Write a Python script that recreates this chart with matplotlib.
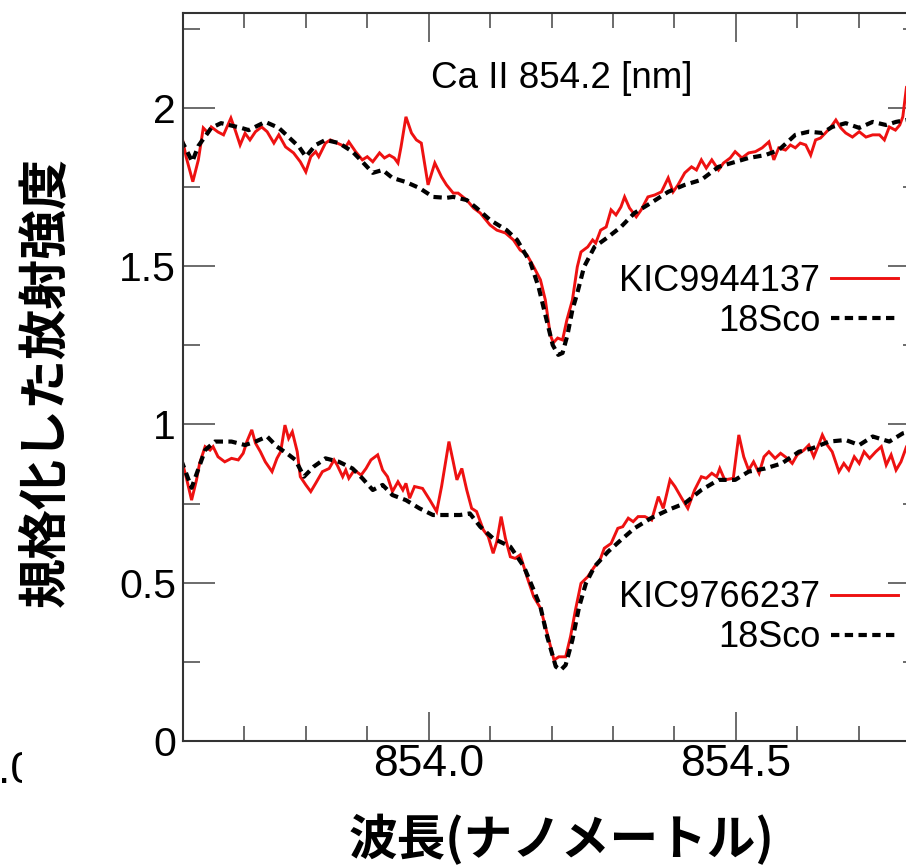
import matplotlib
matplotlib.use("Agg")
import matplotlib.pyplot as plt
from matplotlib.ticker import MultipleLocator, FixedLocator, FuncFormatter
from matplotlib.transforms import Bbox, TransformedBbox

# ---------------- data ----------------
# upper pair (offset +1): KIC9944137 and 18Sco
wl_kic_a = [853.597, 853.605, 853.616, 853.625, 853.633, 853.641, 853.646, 853.657, 853.666, 853.678,
            853.685, 853.693, 853.701, 853.709, 853.718, 853.728, 853.737, 853.748, 853.756, 853.767,
            853.780, 853.791, 853.800, 853.808, 853.816, 853.821, 853.832, 853.840, 853.851, 853.865,
            853.870, 853.881, 853.892, 853.900, 853.909, 853.920, 853.928, 853.936, 853.944, 853.950,
            853.955, 853.963, 853.972, 853.980, 853.988, 853.999, 854.010, 854.021, 854.029, 854.040,
            854.048, 854.062, 854.073, 854.084, 854.100, 854.111, 854.125, 854.138, 854.149, 854.160,
            854.171, 854.182, 854.190, 854.198, 854.203, 854.210, 854.218, 854.225, 854.234, 854.242,
            854.248, 854.259, 854.267, 854.272, 854.280, 854.289, 854.297, 854.305, 854.313, 854.319,
            854.327, 854.338, 854.346, 854.357, 854.368, 854.379, 854.390, 854.398, 854.406, 854.417,
            854.428, 854.436, 854.444, 854.452, 854.461, 854.472, 854.480, 854.491, 854.499, 854.510,
            854.521, 854.532, 854.543, 854.554, 854.562, 854.570, 854.581, 854.589, 854.597, 854.605,
            854.614, 854.622, 854.630, 854.638, 854.646, 854.655, 854.663, 854.671, 854.679, 854.690,
            854.701, 854.712, 854.723, 854.734, 854.742, 854.750, 854.760, 854.767, 854.772, 854.778,
            854.782, 854.790, 854.800]
in_kic_a = [1.921, 1.846, 1.767, 1.836, 1.937, 1.921, 1.940, 1.924, 1.915, 1.968,
            1.930, 1.883, 1.920, 1.899, 1.925, 1.940, 1.925, 1.889, 1.915, 1.877,
            1.858, 1.830, 1.798, 1.846, 1.862, 1.846, 1.889, 1.899, 1.889, 1.877,
            1.893, 1.862, 1.836, 1.846, 1.830, 1.858, 1.842, 1.851, 1.842, 1.826,
            1.877, 1.972, 1.921, 1.899, 1.889, 1.757, 1.826, 1.782, 1.757, 1.731,
            1.731, 1.709, 1.684, 1.668, 1.630, 1.614, 1.605, 1.583, 1.551, 1.536,
            1.498, 1.457, 1.393, 1.283, 1.258, 1.273, 1.267, 1.330, 1.393, 1.498,
            1.545, 1.561, 1.583, 1.573, 1.614, 1.624, 1.678, 1.662, 1.687, 1.719,
            1.684, 1.656, 1.678, 1.719, 1.725, 1.735, 1.779, 1.735, 1.757, 1.795,
            1.814, 1.804, 1.836, 1.810, 1.836, 1.804, 1.826, 1.842, 1.862, 1.842,
            1.858, 1.862, 1.874, 1.893, 1.836, 1.874, 1.867, 1.883, 1.874, 1.889,
            1.883, 1.851, 1.899, 1.905, 1.921, 1.940, 1.962, 1.937, 1.921, 1.908,
            1.925, 1.908, 1.915, 1.915, 1.899, 1.940, 1.930, 1.946, 1.972, 2.066,
            2.072, 2.080, 2.080]

wl_sco_a = [853.597, 853.605, 853.615, 853.625, 853.646, 853.662, 853.695, 853.707, 853.734, 853.756,
            853.772, 853.789, 853.800, 853.816, 853.832, 853.854, 853.876, 853.892, 853.909, 853.925,
            853.941, 853.963, 853.985, 854.007, 854.029, 854.040, 854.062, 854.078, 854.100, 854.127,
            854.144, 854.166, 854.179, 854.190, 854.202, 854.211, 854.218, 854.226, 854.234, 854.242,
            854.253, 854.270, 854.292, 854.313, 854.335, 854.362, 854.390, 854.417, 854.444, 854.472,
            854.493, 854.521, 854.548, 854.570, 854.597, 854.619, 854.641, 854.657, 854.679, 854.701,
            854.723, 854.745, 854.761, 854.778, 854.800]
in_sco_a = [1.899, 1.870, 1.830, 1.880, 1.937, 1.952, 1.937, 1.930, 1.956, 1.937,
            1.908, 1.877, 1.846, 1.883, 1.899, 1.889, 1.862, 1.830, 1.795, 1.804,
            1.779, 1.766, 1.747, 1.719, 1.716, 1.719, 1.709, 1.684, 1.646, 1.614,
            1.583, 1.510, 1.434, 1.346, 1.251, 1.220, 1.226, 1.283, 1.362, 1.415,
            1.498, 1.561, 1.592, 1.624, 1.668, 1.700, 1.735, 1.757, 1.773, 1.814,
            1.826, 1.842, 1.851, 1.867, 1.915, 1.925, 1.921, 1.940, 1.952, 1.937,
            1.956, 1.946, 1.956, 1.962, 1.965]

# lower pair: KIC9766237 and 18Sco
wl_kic_b = [853.597, 853.605, 853.614, 853.622, 853.627, 853.636, 853.644, 853.649, 853.657, 853.668,
            853.679, 853.690, 853.698, 853.704, 853.712, 853.718, 853.726, 853.734, 853.745, 853.753,
            853.759, 853.766, 853.772, 853.778, 853.786, 853.791, 853.800, 853.808, 853.816, 853.827,
            853.838, 853.846, 853.851, 853.860, 853.865, 853.870, 853.879, 853.890, 853.898, 853.906,
            853.917, 853.925, 853.933, 853.941, 853.950, 853.958, 853.963, 853.969, 853.977, 853.990,
            854.002, 854.013, 854.021, 854.033, 854.040, 854.046, 854.054, 854.062, 854.070, 854.078,
            854.089, 854.097, 854.105, 854.111, 854.118, 854.125, 854.133, 854.141, 854.149, 854.160,
            854.171, 854.182, 854.193, 854.204, 854.212, 854.223, 854.231, 854.239, 854.248, 854.259,
            854.270, 854.278, 854.286, 854.297, 854.308, 854.316, 854.325, 854.333, 854.341, 854.352,
            854.363, 854.374, 854.382, 854.393, 854.401, 854.412, 854.422, 854.433, 854.444, 854.452,
            854.461, 854.469, 854.474, 854.482, 854.496, 854.505, 854.513, 854.521, 854.529, 854.538,
            854.546, 854.554, 854.564, 854.573, 854.584, 854.592, 854.600, 854.611, 854.619, 854.627,
            854.636, 854.641, 854.649, 854.657, 854.668, 854.676, 854.684, 854.693, 854.701, 854.709,
            854.718, 854.728, 854.737, 854.745, 854.753, 854.761, 854.769, 854.778, 854.782, 854.800]
in_kic_b = [0.893, 0.835, 0.761, 0.825, 0.877, 0.930, 0.919, 0.930, 0.898, 0.882,
            0.893, 0.888, 0.909, 0.946, 0.983, 0.941, 0.914, 0.882, 0.851, 0.893,
            0.914, 0.998, 0.956, 0.977, 0.914, 0.835, 0.809, 0.788, 0.814, 0.851,
            0.861, 0.888, 0.872, 0.835, 0.856, 0.830, 0.856, 0.840, 0.861, 0.888,
            0.904, 0.856, 0.835, 0.788, 0.819, 0.793, 0.814, 0.767, 0.804, 0.798,
            0.761, 0.725, 0.804, 0.946, 0.882, 0.825, 0.861, 0.793, 0.735, 0.725,
            0.667, 0.646, 0.593, 0.630, 0.709, 0.640, 0.582, 0.577, 0.588, 0.519,
            0.456, 0.420, 0.340, 0.256, 0.266, 0.266, 0.330, 0.414, 0.498, 0.519,
            0.551, 0.567, 0.609, 0.624, 0.672, 0.677, 0.704, 0.693, 0.709, 0.709,
            0.698, 0.772, 0.735, 0.825, 0.804, 0.767, 0.735, 0.793, 0.835, 0.830,
            0.846, 0.835, 0.861, 0.825, 0.830, 0.967, 0.898, 0.856, 0.882, 0.846,
            0.898, 0.914, 0.893, 0.909, 0.893, 0.877, 0.904, 0.919, 0.935, 0.898,
            0.941, 0.967, 0.935, 0.914, 0.851, 0.877, 0.856, 0.898, 0.877, 0.914,
            0.893, 0.914, 0.930, 0.872, 0.904, 0.856, 0.882, 0.930, 0.941, 0.950]

wl_sco_b = [853.597, 853.614, 853.636, 853.652, 853.679, 853.701, 853.718, 853.737, 853.753, 853.769,
            853.783, 853.797, 853.813, 853.832, 853.854, 853.876, 853.892, 853.909, 853.925, 853.941,
            853.963, 853.985, 854.007, 854.029, 854.051, 854.067, 854.084, 854.105, 854.133, 854.155,
            854.171, 854.182, 854.193, 854.207, 854.215, 854.223, 854.234, 854.245, 854.256, 854.270,
            854.292, 854.313, 854.335, 854.362, 854.390, 854.417, 854.444, 854.472, 854.499, 854.521,
            854.548, 854.575, 854.603, 854.625, 854.652, 854.679, 854.701, 854.723, 854.750, 854.772,
            854.782, 854.800]
in_sco_b = [0.888, 0.800, 0.919, 0.946, 0.946, 0.935, 0.946, 0.962, 0.930, 0.909,
            0.888, 0.835, 0.867, 0.893, 0.882, 0.861, 0.830, 0.793, 0.809, 0.777,
            0.761, 0.735, 0.714, 0.714, 0.714, 0.719, 0.677, 0.640, 0.614, 0.551,
            0.477, 0.424, 0.330, 0.235, 0.224, 0.240, 0.319, 0.424, 0.498, 0.551,
            0.598, 0.635, 0.672, 0.704, 0.730, 0.751, 0.793, 0.825, 0.825, 0.851,
            0.861, 0.877, 0.914, 0.925, 0.946, 0.951, 0.935, 0.962, 0.946, 0.972,
            0.977, 0.980]

label_kic_a = "KIC9944137"
label_kic_b = "KIC9766237"
label_sco = "18Sco"
title_text = "Ca II 854.2 [nm]"
xlabel_text = "波長(ナノメートル)"
ylabel_text = "規格化した放射強度"
xtick_vals = [854.0, 854.5]
xtick_labels = ["854.0", "854.5"]

# ---------------- figure ----------------
W, H = 906, 867
plt.rcParams['font.family'] = ['Liberation Sans', 'DejaVu Sans']
fig = plt.figure(figsize=(W / 100, H / 100), dpi=100)
ax = fig.add_axes([183 / W, 126 / H, 737 / W, 728 / H])

red = '#ee1111'
kw_red = dict(color=red, lw=2.1, solid_joinstyle='miter')
kw_sco = dict(color='black', lw=3.0, linestyle=(0, (2.0, 1.3)))

l1, = ax.plot(wl_kic_a, in_kic_a, label=label_kic_a, **kw_red)
l2, = ax.plot(wl_sco_a, in_sco_a, label=label_sco, **kw_sco)
l3, = ax.plot(wl_kic_b, in_kic_b, label=label_kic_b, **kw_red)
l4, = ax.plot(wl_sco_b, in_sco_b, label=label_sco, **kw_sco)

ax.set_xlim(853.6, 854.8)
ax.set_ylim(0, 2.30)

ax.xaxis.set_major_locator(FixedLocator(xtick_vals))
ax.set_xticklabels(xtick_labels)
ax.xaxis.set_minor_locator(MultipleLocator(0.1))
ax.yaxis.set_major_locator(MultipleLocator(0.5))
ax.yaxis.set_minor_locator(MultipleLocator(0.25))
ax.yaxis.set_major_formatter(FuncFormatter(lambda v, p: f"{v:g}"))

tick_col = '#444444'
ax.tick_params(which='both', direction='in', top=True, right=True, colors=tick_col,
               labelcolor='black', width=1.1)
ax.tick_params(axis='y', which='major', length=23, labelsize=29.5, pad=5)
ax.tick_params(axis='y', which='minor', length=12)
ax.tick_params(axis='x', which='major', length=21, labelsize=32, pad=2)
ax.tick_params(axis='x', which='minor', length=11)
for s in ax.spines.values():
    s.set_color('#333333')
    s.set_linewidth(1.5)

ax.text(0.514, 0.897, title_text, transform=ax.transAxes, ha='center', va='baseline',
        fontsize=26.5)

leg_kw = dict(frameon=False, markerfirst=False, fontsize=26, handlelength=1.85,
              handletextpad=0.3, labelspacing=0.14, borderpad=0, borderaxespad=0,
              loc='center right')
leg1 = ax.legend(handles=[l1, l2], bbox_to_anchor=(0.970, 0.604), **leg_kw)
ax.add_artist(leg1)
ax.legend(handles=[l3, l4], bbox_to_anchor=(0.970, 0.169), **leg_kw)

ax.set_xlabel(xlabel_text, family=['Noto Sans CJK JP', 'DejaVu Sans'], fontsize=35,
              fontweight='bold')
ax.xaxis.set_label_coords((561 - 183) / 737, -(855 - 741) / 728)
ax.xaxis.label.set_va('baseline')
ax.set_ylabel(ylabel_text, family=['Noto Sans CJK JP', 'DejaVu Sans'], fontsize=36,
              fontweight='bold')
ax.yaxis.set_label_coords((45 - 183) / 737, (741 - 382) / 728)
ax.yaxis.label.set_va('center')

# fragment of a neighbouring panel's tick label, cut at the left edge
frag = fig.text(35.5 / W, 1 - 783 / H, "854.0", ha='right', va='baseline', fontsize=32)
frag.set_clip_box(TransformedBbox(Bbox([[0, 0], [22 / W, 1]]), fig.transFigure))
frag.set_clip_on(True)

fig.savefig("out.png", dpi=100)
